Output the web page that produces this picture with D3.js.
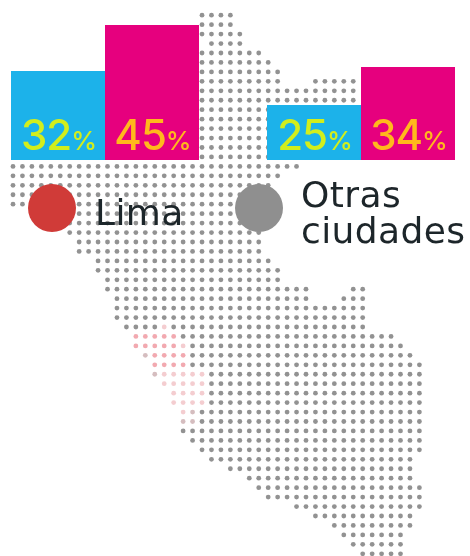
<!DOCTYPE html>
<html><head><meta charset="utf-8">
<script src="https://cdn.jsdelivr.net/npm/d3@7/dist/d3.min.js"></script>
<style>html,body{margin:0;padding:0;background:#fff}svg{display:block}</style>
</head><body><svg id="c" width="470" height="556"></svg>
<script>
const groups = ["Lima", "Otras ciudades"];
const series = ["a", "b"];
const limaValues = [32, 45];
const otrasValues = [25, 34];
const legendLines = [["Lima"], ["Otras", "ciudades"]];
// grid map: one entry per row, [first column, last column] runs
const mapRows = [
 [[20,23]],[[20,23]],[[20,24]],[[21,24]],[[20,26]],[[20,27]],[[20,28]],[[20,28],[32,36]],[[20,36]],[[20,36]],
 [[20,30]],[[20,30]],[[20,30]],[[20,30]],[[20,30]],[[20,30]],
 [[0,30]],[[0,28]],[[0,27]],[[0,26]],[[0,26]],[[3,26]],[[5,26]],[[6,26]],[[7,26]],[[7,26]],
 [[9,27]],[[9,28]],[[10,28]],[[10,31],[36,37]],[[11,31],[35,37]],[[11,37]],[[11,37]],[[12,37]],
 [[13,40]],[[13,41]],[[14,42]],[[15,43]],[[15,43]],[[16,43]],[[17,43]],[[17,43]],[[18,43]],[[18,43]],[[18,43]],
 [[19,43]],[[20,43]],[[21,42]],[[23,42]],[[25,42]],[[26,43]],[[27,43]],[[30,43]],[[32,42]],[[34,42]],
 [[35,41]],[[36,41]],[[37,41]]
];
// runs of tinted map cells: [row, first column, last column]
const pinkRuns = [[34,13,17],[35,13,17],[36,15,18],[37,15,18]];
const lightRuns = [[38,16,20],[39,16,20],[40,17,20],[41,17,20],[42,18,18],[33,16,16],[35,18,18]];
const paleRuns = [[36,14,14],[38,15,15],[42,19,19],[43,18,19]];

const svg = d3.select("#c");
const defs = svg.append("defs");
defs.append("filter").attr("id","soft").attr("x","-5%").attr("y","-5%").attr("width","110%").attr("height","110%")
  .append("feGaussianBlur").attr("stdDeviation",0.7);
const root = svg.append("g").attr("filter","url(#soft)");
root.append("rect").attr("width",470).attr("height",556).attr("fill","#fff");

const col = d3.scaleLinear().domain([0,43]).range([13,419.4]);
const row = d3.scaleLinear().domain([0,57]).range([15.2,553.8]);
const inRuns = (runs,r,c)=>runs.some(d=>d[0]===r&&c>=d[1]&&c<=d[2]);
const cells = mapRows.flatMap((runs,r)=>runs.flatMap(([a,b])=>d3.range(a,b+1).map(c=>({r,c}))));
root.append("g").selectAll("circle").data(cells).join("circle")
  .attr("cx",d=>col(d.c)).attr("cy",d=>row(d.r)).attr("r",2.4)
  .attr("fill",d=>inRuns(pinkRuns,d.r,d.c)?"#f2a9b0":inRuns(lightRuns,d.r,d.c)?"#f4cdd0":inRuns(paleRuns,d.r,d.c)?"#d5bdbf":"#929292");

const groupX = d3.scalePoint().domain(groups).range([11,267]);
const barX = d3.scaleBand().domain(series).range([0,188]);
const h = d3.scaleLinear().domain([25,32,34,45]).range([55,89,93,135]);
const baseY = 160;
const barColor = d3.scaleOrdinal().domain(series).range(["#1cb2ea","#e6007e"]);
const labelColor = d3.scaleOrdinal().domain(series).range(["#d2ee1e","#ffb81e"]);
const font = "Inter, 'Open Sans', sans-serif";

groups.forEach((g,i)=>{
  const vals = i===0?limaValues:otrasValues;
  const gg = root.append("g").attr("transform",`translate(${groupX(g)},0)`);
  const rows = series.map((s,j)=>({s,v:vals[j]}));
  gg.selectAll("rect").data(rows).join("rect")
    .attr("x",d=>barX(d.s)).attr("width",barX.bandwidth())
    .attr("y",d=>baseY-h(d.v)).attr("height",d=>h(d.v)).attr("fill",d=>barColor(d.s));
  const t = gg.selectAll("text").data(rows).join("text")
    .attr("x",d=>barX(d.s)+barX.bandwidth()/2+1).attr("y",149.5)
    .attr("text-anchor","middle").attr("fill",d=>labelColor(d.s))
    .attr("font-family",font).attr("font-weight",500);
  t.append("tspan").attr("font-size",42).attr("letter-spacing",-1).text(d=>d.v);
  t.append("tspan").attr("font-size",26).attr("font-weight",500).text("%");
});

const legendColor = ["#d03a38","#8f8f8f"];
const legendCx = d3.scalePoint().domain(groups).range([52,259]);
root.selectAll("circle.lg").data(groups).join("circle").attr("class","lg")
  .attr("cx",d=>legendCx(d)).attr("cy",208).attr("r",24).attr("fill",(d,i)=>legendColor[i]);
const legendTx = [95,301];
const legendTy = [225,207];
groups.forEach((g,i)=>{
  const t = root.append("text").attr("y",legendTy[i])
    .attr("font-family","'DejaVu Sans', sans-serif").attr("font-size",36).attr("font-weight",400)
    .attr("letter-spacing",0.4).attr("fill","#1f2529");
  legendLines[i].forEach((line,k)=>{
    t.append("tspan").attr("x",legendTx[i]).attr("dy",k?36:0).text(line);
  });
});
</script></body></html>
